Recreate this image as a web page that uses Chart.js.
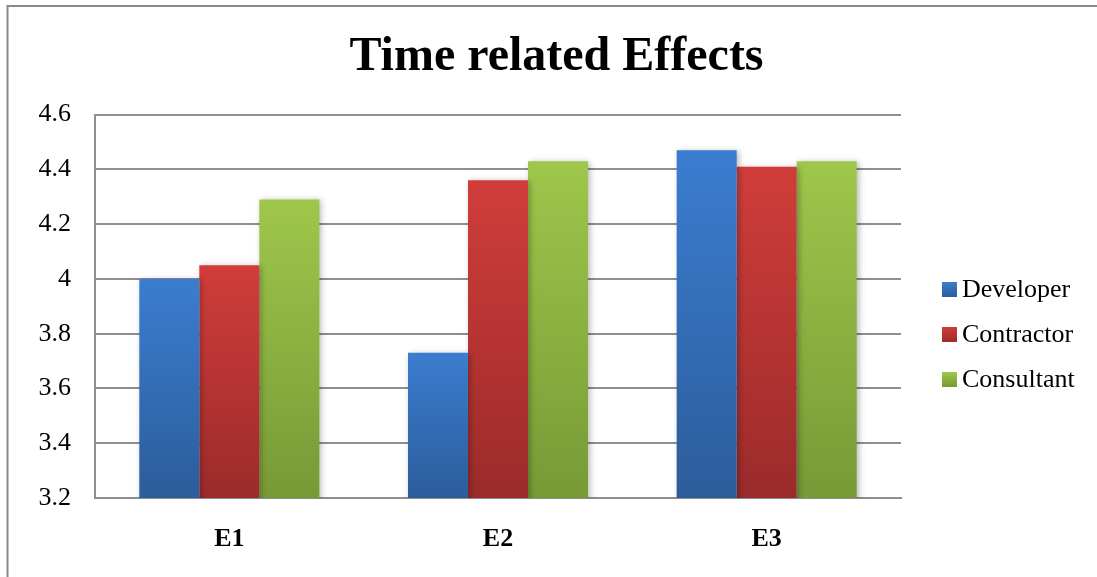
<!DOCTYPE html>
<html>
<head>
<meta charset="utf-8">
<script src="https://cdn.jsdelivr.net/npm/chart.js@4/dist/chart.umd.min.js"></script>
<style>
  html, body { margin: 0; padding: 0; background: #fff; }
  #wrap { width: 1097px; height: 577px; }
</style>
</head>
<body>
<div id="wrap"><canvas id="c" width="1097" height="577"></canvas></div>
<script>
// Mean scores per effect, grouped by respondent type
const categories = ['E1', 'E2', 'E3'];
const seriesNames = ['Developer', 'Contractor', 'Consultant'];
const developer = [4.00, 3.73, 4.47];
const contractor = [4.05, 4.36, 4.41];
const consultant = [4.29, 4.43, 4.43];
const yTickLabels = ['3.2', '3.4', '3.6', '3.8', '4', '4.2', '4.4', '4.6'];

const SERIF = "'Liberation Serif', 'Times New Roman', serif";
const GRID = '#8e8e8e';

// Vertical gradient per bar: lighter at the top, darker at the base
function barFill(top, bottom) {
  return (ctx) => {
    const chart = ctx.chart;
    const y = chart.scales && chart.scales.y;
    if (!chart.chartArea || !y || ctx.type !== 'data') return top;
    const y0 = y.getPixelForValue(ctx.raw);
    const y1 = y.bottom;
    const g = chart.ctx.createLinearGradient(0, y0, 0, y1);
    g.addColorStop(0, top);
    g.addColorStop(1, bottom);
    return g;
  };
}

const palette = [
  { top: '#3b7dd0', bottom: '#2c5c9b' },
  { top: '#d03d3a', bottom: '#9b2b2b' },
  { top: '#9ec74b', bottom: '#779a36' }
];
const seriesValues = [developer, contractor, consultant];

// Outer frame and white background
const framePlugin = {
  id: 'frame',
  beforeDraw(chart) {
    const c = chart.ctx;
    c.save();
    c.fillStyle = '#ffffff';
    c.fillRect(0, 0, chart.width, chart.height);
    c.strokeStyle = '#8a8a8a';
    c.lineWidth = 2;
    c.beginPath();
    c.moveTo(7.5, chart.height);
    c.lineTo(7.5, 6);
    c.lineTo(chart.width, 6);
    c.stroke();
    c.restore();
  }
};

// Soft drop shadow behind the bars
const shadowPlugin = {
  id: 'barShadow',
  beforeDatasetsDraw(chart) {
    const c = chart.ctx;
    c.save();
    c.shadowColor = 'rgba(0,0,0,0.28)';
    c.shadowBlur = 6;
    c.shadowOffsetX = 2;
    c.shadowOffsetY = 1;
  },
  afterDatasetsDraw(chart) {
    chart.ctx.restore();
  }
};

// Legend on the right: gradient squares with series names
const sideLegend = {
  id: 'sideLegend',
  afterDraw(chart) {
    const c = chart.ctx;
    c.save();
    c.font = '26px ' + SERIF;
    c.textBaseline = 'alphabetic';
    c.textAlign = 'left';
    chart.data.datasets.forEach((ds, i) => {
      const base = 297 + i * 45;
      const sx = 942, sy = base - 15, s = 15;
      const g = c.createLinearGradient(0, sy, 0, sy + s);
      g.addColorStop(0, ds.gradTop);
      g.addColorStop(1, ds.gradBottom);
      c.fillStyle = g;
      c.fillRect(sx, sy, s, s);
      c.fillStyle = '#000';
      c.fillText(ds.label, 962, base);
    });
    c.restore();
  }
};

const datasets = seriesNames.map((name, i) => ({
  label: name,
  data: seriesValues[i],
  gradTop: palette[i].top,
  gradBottom: palette[i].bottom,
  backgroundColor: barFill(palette[i].top, palette[i].bottom),
  borderWidth: 0,
  categoryPercentage: 0.67,
  barPercentage: 1.0
}));

new Chart(document.getElementById('c'), {
  type: 'bar',
  data: { labels: categories, datasets },
  plugins: [framePlugin, shadowPlugin, sideLegend],
  options: {
    responsive: false,
    animation: false,
    devicePixelRatio: 1,
    layout: { padding: { left: 16, right: 0, top: 0, bottom: 0 } },
    plugins: {
      legend: { display: false },
      tooltip: { enabled: false },
      title: {
        display: true,
        text: 'Time related Effects',
        color: '#000',
        font: { family: SERIF, size: 48, weight: 'bold' },
        padding: { top: 29, bottom: 28 }
      }
    },
    scales: {
      x: {
        grid: { display: false, drawTicks: false },
        border: { display: true, color: GRID, width: 2 },
        ticks: {
          color: '#000',
          padding: 26,
          font: { family: SERIF, size: 26, weight: 'bold' }
        },
        afterFit(scale) { scale.height = 79; }
      },
      y: {
        min: 3.2,
        max: 4.6,
        grid: { color: GRID, lineWidth: 2, drawTicks: false },
        border: { display: true, color: GRID, width: 2 },
        afterBuildTicks(scale) {
          scale.ticks = yTickLabels.map(v => ({ value: parseFloat(v) }));
        },
        ticks: {
          color: '#000',
          padding: 24,
          font: { family: SERIF, size: 26 },
          callback: (v, i) => yTickLabels[i]
        },
        afterFit(scale) { scale.width = 79; }
      },
      // empty right-hand axis that reserves room for the legend column
      legendSpace: {
        type: 'linear',
        position: 'right',
        grid: { display: false, drawTicks: false },
        border: { display: false },
        ticks: { display: false },
        afterFit(scale) { scale.width = 196; }
      }
    }
  }
});
</script>
</body>
</html>
